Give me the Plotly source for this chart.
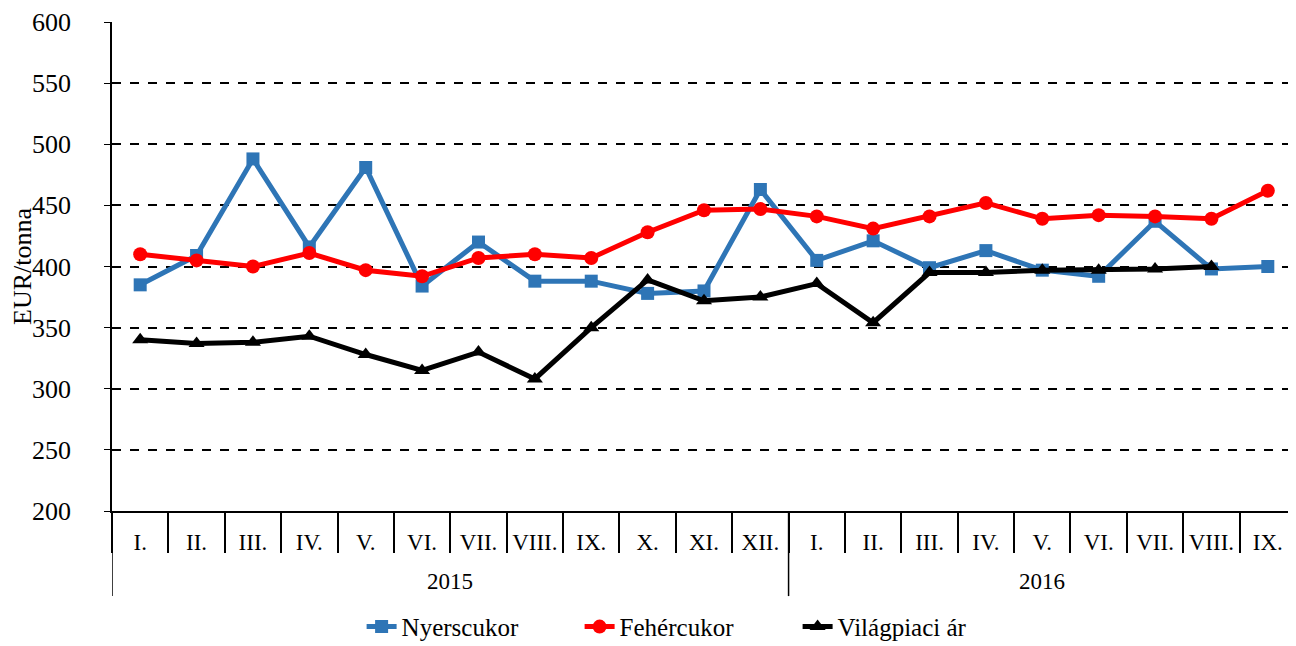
import plotly.graph_objects as go

months = ["I.", "II.", "III.", "IV.", "V.", "VI.", "VII.", "VIII.", "IX.", "X.", "XI.", "XII.",
          "I.", "II.", "III.", "IV.", "V.", "VI.", "VII.", "VIII.", "IX."]
years = ["2015", "2016"]
year_span = [(-0.5, 11.5), (11.5, 20.5)]

nyerscukor = [385, 409, 488, 416, 481, 384, 420, 388, 388, 378, 380, 463,
              405, 421, 399, 413, 397, 392, 437, 398, 400]
fehercukor = [410, 405, 400, 411, 397, 392, 407, 410, 407, 428, 446, 447,
              441, 431, 441, 452, 439, 442, 441, 439, 462]
vilagpiaci = [340, 337, 338, 343, 328, 315, 330, 308, 350, 389, 372, 375,
              386, 354, 395, 395, 397, 397, 398, 400, None]

x = list(range(len(months)))
font = "Liberation Serif, Times New Roman, serif"

fig = go.Figure()
fig.add_trace(go.Scatter(
    x=x, y=nyerscukor, name="Nyerscukor", mode='lines+markers',
    line=dict(color='#2E75B6', width=5), marker=dict(symbol='square', size=13)
))
fig.add_trace(go.Scatter(
    x=x, y=fehercukor, name="Fehércukor", mode='lines+markers',
    line=dict(color='#FF0000', width=5), marker=dict(symbol='circle', size=14)
))
fig.add_trace(go.Scatter(
    x=x, y=vilagpiaci, name="Világpiaci ár", mode='lines+markers',
    line=dict(color='#000000', width=5), marker=dict(symbol='triangle-up', size=14)
))

# year group dividers and labels under the month row
for (a, b), yr in zip(year_span, years):
    fig.add_shape(type='line', xref='x', yref='paper', x0=a, x1=a, y0=0, y1=-0.174,
                  line=dict(color='black', width=1.5))
    fig.add_annotation(text=yr, xref='x', yref='paper', x=(a + b) / 2, y=-0.145,
                       yanchor='middle', showarrow=False, font=dict(size=23))

# page body has an 8px margin, so the figure is sized/offset to land the plot at the same pixels
fig.update_layout(
    width=1288, height=638,
    plot_bgcolor='white', paper_bgcolor='white',
    font=dict(family=font, size=20, color='black'),
    margin=dict(l=104, r=0, t=14, b=135),
    showlegend=True,
    legend=dict(orientation="h", yref='container', yanchor="middle", y=0.03,
                xanchor="center", x=0.487,
                font=dict(size=25), entrywidth=173, entrywidthmode='pixels'),
    yaxis=dict(
        title=dict(text="EUR/tonna", font=dict(size=26), standoff=8),
        range=[200, 600], dtick=50, showline=True, linecolor='black', linewidth=1.5,
        ticks='outside', ticklen=6, tickcolor='black', ticklabelstandoff=28,
        showgrid=True, gridcolor='black', griddash='dash', gridwidth=1.5,
        zeroline=False, tickfont=dict(size=26), automargin=False
    ),
    xaxis=dict(
        range=[-0.5, 20.5], tickvals=x, ticktext=months, ticks='',
        showline=True, linecolor='black', linewidth=1.5,
        minor=dict(tick0=-0.5, dtick=1, ticks='outside', ticklen=40, tickcolor='black',
                   tickwidth=1.5, showgrid=False),
        ticklabelstandoff=10, showgrid=False, zeroline=False,
        tickfont=dict(size=23), automargin=False
    )
)

fig.write_html("out.html")
